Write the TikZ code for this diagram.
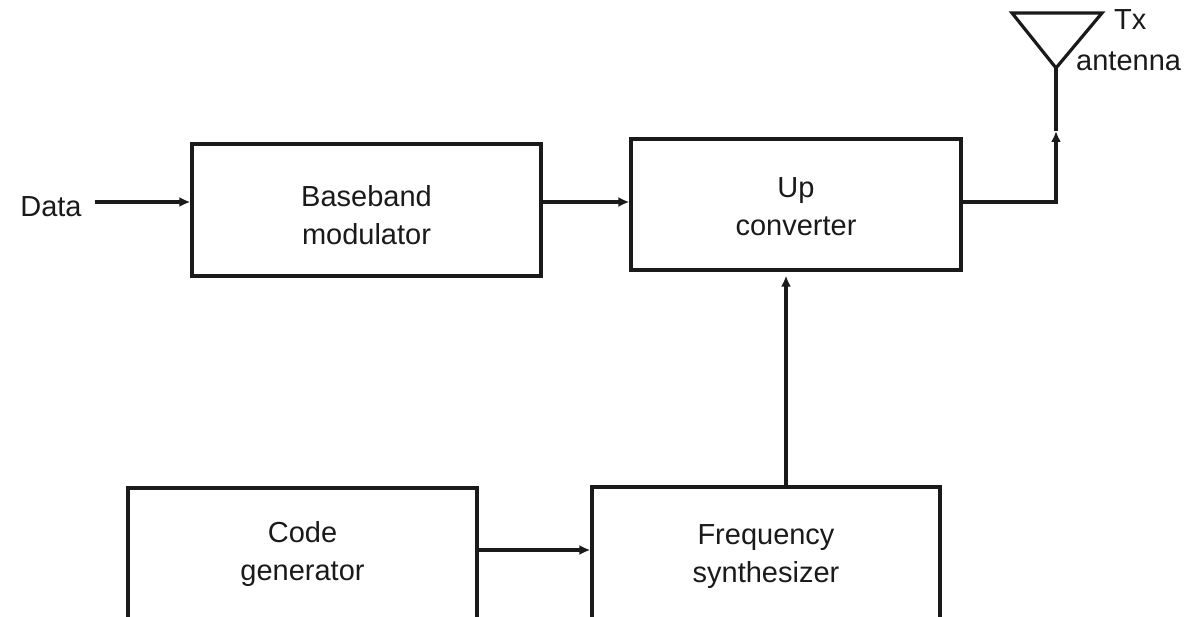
\documentclass[tikz,border=0pt]{standalone}
\usepackage{fontspec}
\setmainfont{Liberation Sans}
\usetikzlibrary{arrows.meta,calc}
\definecolor{ink}{HTML}{1A1A1A}
\begin{document}
\begin{tikzpicture}[x=1pt,y=-1pt,
  blk/.style={draw=ink,line width=3.2pt,rectangle,inner sep=0pt},
  lbl/.style={text=ink,font=\fontsize{29}{38}\selectfont,align=center,inner sep=0pt},
  wire/.style={draw=ink,line width=3.2pt},
  arr/.style={wire,-{Latex[length=11pt,width=10pt]}}]
\useasboundingbox (0,0) rectangle (1191,617);
\clip (0,0) rectangle (1191,617);
% boxes
\node[blk,minimum width=349pt,minimum height=132pt] (bb) at (366.5,210) {};
\node[lbl] at (366.5,215) {Baseband\\modulator};
\node[blk,minimum width=330pt,minimum height=131pt] (uc) at (796,204.5) {};
\node[lbl] at (796,207) {Up\\converter};
\node[blk,minimum width=349pt,minimum height=136pt] (cg) at (302.5,556) {};
\node[lbl] at (302.5,554) {Code\\generator};
\node[blk,minimum width=348pt,minimum height=140pt] (fs) at (766,557) {};
\node[lbl] at (766,557) {Frequency\\synthesizer};
% data input
\node[lbl] (data) at (51,207) {Data};
\coordinate (dstart) at (95,202);
\draw[arr] (dstart) -- (bb.west |- dstart);
% baseband -> up converter
\coordinate (bbo) at (bb.east |- 0,202);
\draw[arr] (bbo) -- (uc.west |- bbo);
% code gen -> freq synth
\coordinate (cgo) at (cg.east |- 0,550);
\draw[arr] (cgo) -- (fs.west |- cgo);
% freq synth -> up converter
\draw[arr] ([xshift=20pt]fs.north) -- ([xshift=20pt,yshift=-4pt]fs.north |- uc.south);
% antenna
\coordinate (ant) at (1056,68);
\coordinate (amid) at (1056,131);
\coordinate (ucout) at (uc.east |- 0,202);
\draw[wire,line join=miter] (1012,13) -- (1102,13) -- (ant) -- cycle;
\draw[arr] (ucout) -| (amid);
\draw[wire] (amid) -- (ant);
\node[lbl,anchor=west] (tx) at (1114,20) {Tx};
\node[lbl,anchor=west] (antl) at (1076,61) {antenna};
\end{tikzpicture}
\end{document}
